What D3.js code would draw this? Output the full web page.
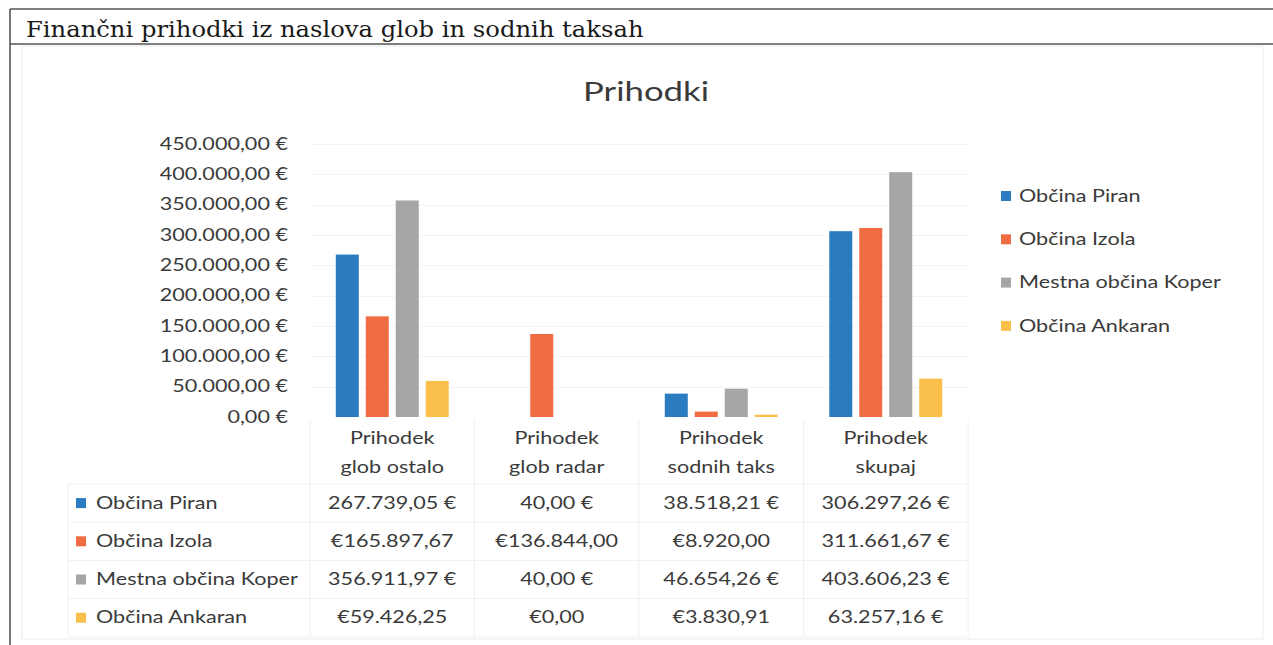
<!DOCTYPE html>
<html>
<head>
<meta charset="utf-8">
<script src="https://cdn.jsdelivr.net/npm/d3@7/dist/d3.min.js"></script>
<style>
  html, body { margin: 0; padding: 0; background: #fff; }
  svg { display: block; }
</style>
</head>
<body>
<svg id="chart" width="1273" height="645"></svg>
<script>
// ---------------- DATA ----------------
const pageTitle = "Finančni prihodki iz naslova glob in sodnih taksah";
const chartTitle = "Prihodki";
const categories = ["Prihodek glob ostalo", "Prihodek glob radar", "Prihodek sodnih taks", "Prihodek skupaj"];
const categoryLines = [["Prihodek", "glob ostalo"], ["Prihodek", "glob radar"], ["Prihodek", "sodnih taks"], ["Prihodek", "skupaj"]];
const seriesNames = ["Občina Piran", "Občina Izola", "Mestna občina Koper", "Občina Ankaran"];
const piranValues   = [267739.05, 40, 38518.21, 306297.26];
const izolaValues   = [165897.67, 136844.00, 8920.00, 311661.67];
const koperValues   = [356911.97, 40, 46654.26, 403606.23];
const ankaranValues = [59426.25, 0, 3830.91, 63257.16];
const piranLabels   = ["267.739,05 €", "40,00 €", "38.518,21 €", "306.297,26 €"];
const izolaLabels   = ["€165.897,67", "€136.844,00", "€8.920,00", "311.661,67 €"];
const koperLabels   = ["356.911,97 €", "40,00 €", "46.654,26 €", "403.606,23 €"];
const ankaranLabels = ["€59.426,25", "€0,00", "€3.830,91", "63.257,16 €"];
const yTicks = [0, 50000, 100000, 150000, 200000, 250000, 300000, 350000, 400000, 450000];
const seriesColors = ["#2a7bbf", "#f06c43", "#a6a6a6", "#fbc04c"];

const seriesValues = [piranValues, izolaValues, koperValues, ankaranValues];
const seriesLabels = [piranLabels, izolaLabels, koperLabels, ankaranLabels];

// ---------------- LAYOUT ----------------
const SX = 1.31;           // horizontal stretch of the scanned text
const FONT = "Lato, 'Open Sans', sans-serif";
const TEXT = "#3a3a3a";
const svg = d3.select("#chart");

const plot = { left: 310, right: 968, top: 144, bottom: 417 };

const x = d3.scaleBand().domain(categories).range([plot.left, plot.right]).paddingInner(0).paddingOuter(0);
const xs = d3.scaleBand().domain(seriesNames).range([0, x.bandwidth()]).paddingInner(0.233).paddingOuter(0.86);
const y = d3.scaleLinear().domain([0, 450000]).range([plot.bottom, plot.top]);

const locale = d3.formatLocale({ decimal: ",", thousands: ".", grouping: [3], currency: ["", " €"] });
const fmt = locale.format("$,.2f");

function stretchedText(sel, px, py, str, anchor, size, color, family, sx) {
  return sel.append("text")
    .attr("transform", `translate(${px},${py}) scale(${sx || SX},1)`)
    .attr("text-anchor", anchor)
    .attr("dy", "0.35em")
    .style("font-family", family || FONT)
    .style("font-size", size + "px")
    .style("fill", color)
    .text(str);
}

// ---------------- PAGE FRAME ----------------
const frame = svg.append("g");
frame.append("line").attr("x1", 10).attr("x2", 1273).attr("y1", 9).attr("y2", 9).attr("stroke", "#555").attr("stroke-width", 1.6);
frame.append("line").attr("x1", 10).attr("x2", 1273).attr("y1", 44).attr("y2", 44).attr("stroke", "#555").attr("stroke-width", 1.6);
frame.append("line").attr("x1", 10).attr("x2", 10).attr("y1", 9).attr("y2", 645).attr("stroke", "#555").attr("stroke-width", 1.6);
stretchedText(frame, 26, 29, pageTitle, "start", 23, "#1a1a1a", "'DejaVu Serif', serif", 1.055);

// chart area border
svg.append("rect").attr("x", 22).attr("y", 46).attr("width", 1241).attr("height", 593)
  .attr("fill", "none").attr("stroke", "#ececec").attr("stroke-width", 1);

// ---------------- CHART TITLE ----------------
stretchedText(svg, 646, 92, chartTitle, "middle", 26.5, TEXT);

// ---------------- GRID + Y AXIS ----------------
const grid = svg.append("g");
grid.selectAll("line").data(yTicks.slice(1)).join("line")
  .attr("x1", plot.left).attr("x2", plot.right)
  .attr("y1", d => Math.round(y(d)) + 0.5).attr("y2", d => Math.round(y(d)) + 0.5)
  .attr("stroke", "#f4f4f4").attr("stroke-width", 1);

const yAxisG = svg.append("g");
yTicks.forEach(t => stretchedText(yAxisG, 288, y(t), fmt(t), "end", 16.5, TEXT));

// ---------------- BARS ----------------
const barsG = svg.append("g");
seriesNames.forEach((s, si) => {
  barsG.append("g").attr("fill", seriesColors[si])
    .selectAll("rect").data(categories.map((c, ci) => ({ c, v: seriesValues[si][ci] })))
    .join("rect")
    .attr("x", d => x(d.c) + xs(s))
    .attr("width", xs.bandwidth())
    .attr("y", d => y(d.v))
    .attr("height", d => y(0) - y(d.v));
});

// ---------------- DATA TABLE ----------------
const tableG = svg.append("g");
const tableLeft = 68;
const headerTop = 420;
const rowTop = 484;
const rowH = 38.2;
const lineColor = "#f0f0f0";

const colEdges = categories.map(c => x(c)).concat([x.range()[1]]);
tableG.selectAll("line.v").data(colEdges).join("line").attr("class", "v")
  .attr("x1", d => d).attr("x2", d => d)
  .attr("y1", headerTop).attr("y2", rowTop + rowH * 4)
  .attr("stroke", lineColor);
tableG.append("line").attr("x1", tableLeft).attr("x2", tableLeft)
  .attr("y1", rowTop).attr("y2", rowTop + rowH * 4).attr("stroke", lineColor);
tableG.selectAll("line.h").data(d3.range(5)).join("line").attr("class", "h")
  .attr("x1", tableLeft).attr("x2", plot.right)
  .attr("y1", i => rowTop + i * rowH).attr("y2", i => rowTop + i * rowH)
  .attr("stroke", lineColor);

categories.forEach((c, ci) => {
  const cx = x(c) + x.bandwidth() / 2;
  categoryLines[ci].forEach((ln, li) => stretchedText(tableG, cx, 438 + li * 29, ln, "middle", 16.5, TEXT));
});

seriesNames.forEach((s, si) => {
  const cy = rowTop + rowH * si + rowH / 2;
  tableG.append("rect").attr("x", 76).attr("y", cy - 5).attr("width", 10).attr("height", 10).attr("fill", seriesColors[si]);
  stretchedText(tableG, 96, cy, s, "start", 16.5, TEXT);
  categories.forEach((c, ci) => {
    stretchedText(tableG, x(c) + x.bandwidth() / 2, cy, seriesLabels[si][ci], "middle", 16.5, TEXT);
  });
});

// ---------------- LEGEND ----------------
const legendG = svg.append("g");
seriesNames.forEach((s, si) => {
  const ly = 196 + si * 43.3;
  legendG.append("rect").attr("x", 1001).attr("y", ly - 5).attr("width", 10).attr("height", 10).attr("fill", seriesColors[si]);
  stretchedText(legendG, 1019, ly, s, "start", 16.5, TEXT);
});
</script>
</body>
</html>
